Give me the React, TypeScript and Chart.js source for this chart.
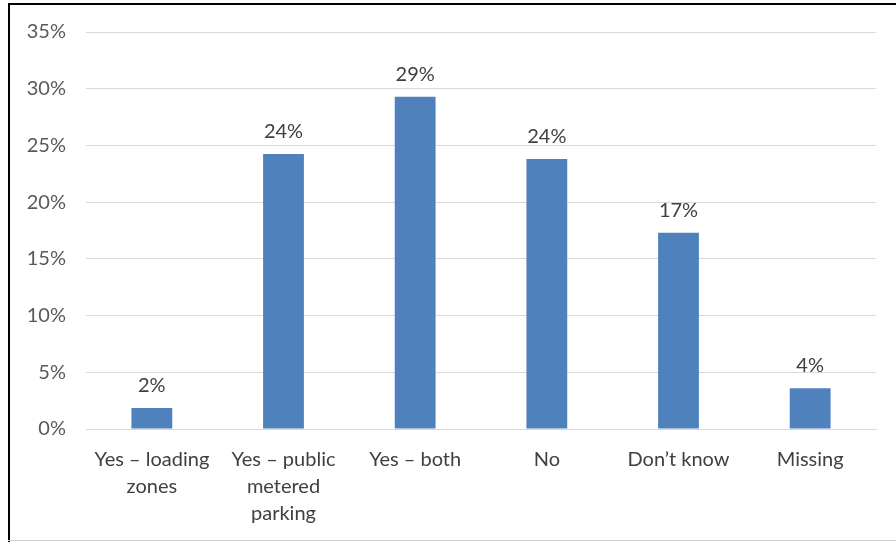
import React, { useEffect, useRef } from "react";
import { Chart, registerables } from "chart.js";

Chart.register(...registerables);

const categories: (string | string[])[] = [
  ["Yes – loading", "zones"],
  ["Yes – public", "metered", "parking"],
  "Yes – both",
  "No",
  "Don’t know",
  "Missing",
];
const values = [1.85, 24.25, 29.3, 23.8, 17.3, 3.6];
const valueLabels = ["2%", "24%", "29%", "24%", "17%", "4%"];
const yTicks = [0, 5, 10, 15, 20, 25, 30, 35];

const FONT = "Lato, 'Open Sans', sans-serif";
const FSIZE = 20;

const labelPlugin = {
  id: "valueLabels",
  afterDatasetsDraw(chart: any) {
    const ctx = chart.ctx;
    const meta = chart.getDatasetMeta(0);
    ctx.save();
    ctx.font = `${FSIZE}px ${FONT}`;
    ctx.fillStyle = "#404040";
    ctx.textAlign = "center";
    ctx.textBaseline = "alphabetic";
    meta.data.forEach((bar: any, i: number) => {
      ctx.fillText(valueLabels[i], bar.x, bar.y - 16);
    });
    ctx.restore();
  },
};

export default function App() {
  const ref = useRef<HTMLCanvasElement>(null);
  useEffect(() => {
    if (!ref.current) return;
    const chart = new Chart(ref.current, {
      type: "bar",
      data: {
        labels: categories,
        datasets: [
          {
            data: values,
            backgroundColor: "#4F81BD",
            barPercentage: 0.31,
            categoryPercentage: 1,
          },
        ],
      },
      options: {
        animation: false,
        responsive: false,
        maintainAspectRatio: false,
        layout: { padding: { top: 32, right: 20, left: 0, bottom: 0 } },
        plugins: { legend: { display: false }, tooltip: { enabled: false } },
        scales: {
          x: {
            grid: { display: false, drawTicks: false },
            border: { display: true, color: "#d9d9d9", width: 1 },
            ticks: {
              color: "#404040",
              font: { family: FONT, size: FSIZE, lineHeight: 27 / FSIZE },
              padding: 17,
              maxRotation: 0,
              autoSkip: false,
            },
            afterFit(axis: any) {
              axis.height = 113;
            },
          },
          y: {
            min: 0,
            max: 35,
            afterBuildTicks(axis: any) {
              axis.ticks = yTicks.map((v) => ({ value: v }));
            },
            grid: { color: "#d9d9d9", drawTicks: false, lineWidth: 1 },
            border: { display: false },
            ticks: {
              color: "#595959",
              font: { family: FONT, size: FSIZE },
              padding: 20,
              callback: (v: any) => `${v}%`,
            },
            afterFit(axis: any) {
              axis.width = 86;
            },
          },
        },
      },
      plugins: [labelPlugin],
    });
    return () => chart.destroy();
  }, []);

  return (
    <div style={{ position: "fixed", left: 0, top: 0, width: 896, height: 542, background: "#fff" }}>
      <canvas ref={ref} width={896} height={542} style={{ position: "absolute", left: 0, top: 0 }} />
      <div style={{ position: "absolute", left: 8, top: 3, width: 888, height: 2, background: "#000" }} />
      <div style={{ position: "absolute", left: 8, top: 3, width: 2, height: 539, background: "#000" }} />
      <div style={{ position: "absolute", left: 8, top: 540, width: 888, height: 1, background: "#d0d0d0" }} />
    </div>
  );
}
